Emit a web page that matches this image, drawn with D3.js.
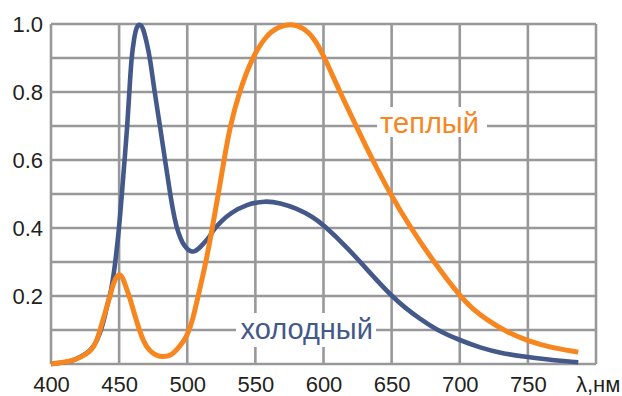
<!DOCTYPE html>
<html><head><meta charset="utf-8">
<script src="https://cdn.jsdelivr.net/npm/d3@7/dist/d3.min.js"></script>
<style>body{margin:0;background:#fff}svg{display:block}</style>
</head><body><svg id="c" width="622" height="396"></svg>
<script>
const xTicks = [400,450,500,550,600,650,700,750];
const yTicks = [0.2,0.4,0.6,0.8,1.0];
const coldNm  = [400,410,416,422,428,432,436,439,441,444,447,450,452,454,456,457.5,459,461,463,465.3,467.5,470,472.7,476,480,483.7,487.4,491,493.5,496.5,500,502.5,505,508,512,516.7,519,525,531.4,543.6,557.3,568,580.3,592.5,600,617,636.6,650,660,670,683,700,715,730,750,770,787];
const coldVal = [0,0.004,0.01,0.022,0.036,0.055,0.09,0.13,0.17,0.21,0.29,0.40,0.50,0.60,0.70,0.80,0.90,0.96,0.995,1.0,0.99,0.95,0.90,0.80,0.70,0.60,0.50,0.42,0.385,0.355,0.338,0.331,0.33,0.337,0.355,0.375,0.394,0.42,0.443,0.47,0.48,0.474,0.458,0.432,0.409,0.345,0.257,0.20,0.165,0.135,0.10,0.07,0.048,0.032,0.02,0.01,0.005];
const warmNm  = [400,408,416,422,428.6,433,436,440,443.3,446,448.5,450.6,453,455.5,457.5,461,464.8,468,472,477,482.7,488,491,494,498,501,504,508,513.8,518.4,522.8,527,531.4,538.2,547.3,558.3,566,575.4,585,593,601,612,624,636,649,664,681,700,710,720,734,750,765,787];
const warmVal = [0,0.004,0.01,0.02,0.036,0.06,0.10,0.155,0.20,0.24,0.26,0.265,0.252,0.22,0.20,0.15,0.10,0.065,0.04,0.025,0.02,0.026,0.036,0.05,0.07,0.095,0.13,0.20,0.30,0.40,0.50,0.60,0.70,0.80,0.90,0.968,0.99,1.002,0.99,0.96,0.90,0.80,0.70,0.60,0.50,0.40,0.30,0.20,0.16,0.13,0.095,0.068,0.05,0.035];

const svg = d3.select('#c');
const x = d3.scaleLinear().domain([400,800]).range([51,596]);
const y = d3.scaleLinear().domain([0,1]).range([364,24]);
const gridColor = '#98989b';
const g = svg.append('g');
d3.range(400,801,50).forEach(v=>g.append('line').attr('x1',x(v)).attr('x2',x(v)).attr('y1',y(0)).attr('y2',y(1)).attr('stroke',gridColor).attr('stroke-width',2.6));
d3.range(0,1.001,0.1).forEach(v=>g.append('line').attr('x1',x(400)).attr('x2',x(800)).attr('y1',y(v)).attr('y2',y(v)).attr('stroke',gridColor).attr('stroke-width',2.6));

const font = 'Liberation Sans, Arial, sans-serif';
const xa = svg.append('g').attr('transform',`translate(0,${y(0)})`).call(d3.axisBottom(x).tickValues(xTicks).tickSize(0).tickPadding(12).tickFormat(d3.format('d')));
xa.select('.domain').remove();
xa.selectAll('text').attr('font-family',font).attr('font-size',22).attr('fill','#231f20');
const ya = svg.append('g').attr('transform',`translate(${x(400)},0)`).call(d3.axisLeft(y).tickValues(yTicks).tickSize(0).tickPadding(8).tickFormat(d3.format('.1f')));
ya.select('.domain').remove();
ya.selectAll('text').attr('font-family',font).attr('font-size',22).attr('fill','#231f20');
svg.append('text').attr('x',576).attr('y',392).attr('font-family',font).attr('font-size',22).attr('fill','#231f20').text('λ,нм');

function label(txt,cx,baseline,color,bx0,bx1,by0,by1){
  svg.append('rect').attr('x',bx0).attr('y',by0).attr('width',bx1-bx0).attr('height',by1-by0).attr('fill','#fff');
  svg.append('text').attr('x',cx).attr('y',baseline).attr('text-anchor','middle').attr('font-family',font).attr('font-size',29).attr('fill',color).text(txt);
}
label('теплый',429.5,133,'#f7861f',377,487,107,137);
label('холодный',306.7,338.5,'#44598a',236,376,313,347);

const line = d3.line().x(d=>x(d[0])).y(d=>y(d[1])).curve(d3.curveBasis);
svg.append('path').datum(d3.zip(coldNm,coldVal)).attr('d',line).attr('fill','none').attr('stroke','#44598a').attr('stroke-width',4.6);
svg.append('path').datum(d3.zip(warmNm,warmVal)).attr('d',line).attr('fill','none').attr('stroke','#f7861f').attr('stroke-width',5);
</script></body></html>
